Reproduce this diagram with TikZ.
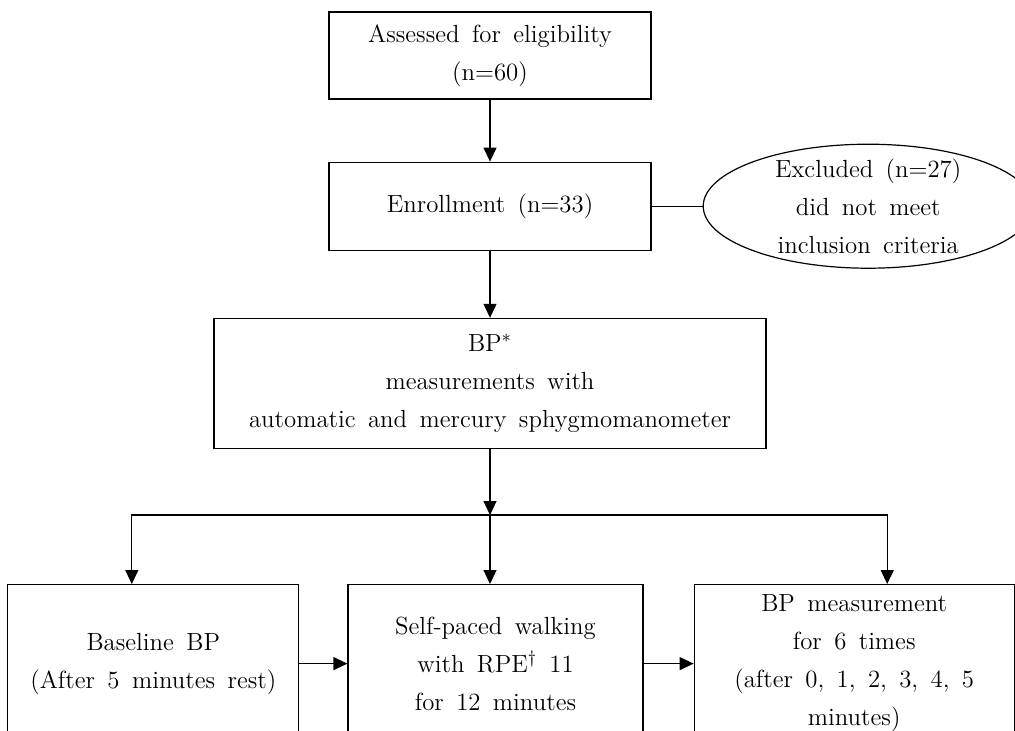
\documentclass[tikz,border=0pt]{standalone}
\usepackage{tikz}
\usetikzlibrary{shapes.geometric, arrows.meta, positioning, calc}

\begin{document}
\begin{tikzpicture}[x=0.5pt, y=-0.5pt, line width=0.6pt, node distance=31pt and 24pt]
        \tikzset{
            stagebox/.style={draw, align=center, inner sep=0pt, minimum width=161pt, minimum height=43.5pt,
                font={\fontsize{12.4}{19}\selectfont\spaceskip=0.5em plus 0.1em}},
            lowbox/.style={stagebox, minimum height=79pt},
            excludebox/.style={draw, ellipse, inner sep=0pt, minimum width=165pt, minimum height=62pt},
            flowarrow/.style={-{Triangle[length=7pt, width=6.5pt]}}
        }
        \useasboundingbox (0,0) rectangle (1015,730);
        \clip (0,0) rectangle (1015,730);

        % --- screening ---
        \node[stagebox] (assess) at (490,55.5) {Assessed for eligibility\\(n=60)};
        \node[stagebox, minimum height=44pt, below=of assess] (enroll) {Enrollment (n=33)};
        \node[excludebox, right=25.5pt of enroll] (excluded) {};
        \node[align=center, inner sep=0pt, font={\fontsize{12.4}{19}\selectfont\spaceskip=0.5em plus 0.1em}]
            (excltext) at (excluded.center) {Excluded (n=27)\\did not meet\\inclusion criteria};

        % --- measurement ---
        \node[stagebox, minimum width=276pt, minimum height=65pt, below=33.5pt of enroll] (bp)
            {BP$^{*}$\\measurements with\\automatic and mercury sphygmomanometer};

        % --- protocol row ---
        \node[lowbox, minimum width=147.5pt, below=67.5pt of bp, xshift=2.75pt] (walk)
            {Self-paced walking\\with RPE$^{\dagger}$ 11\\for 12 minutes};
        \node[lowbox, minimum width=145.5pt, left=of walk] (baseline) {Baseline BP\\(After 5 minutes rest)};
        \node[lowbox, minimum width=160pt, right=25pt of walk] (repeat)
            {BP measurement\\for 6 times\\(after 0, 1, 2, 3, 4, 5\\minutes)};

        % Arrows screening
        \draw[flowarrow] (assess) -- (enroll);
        \draw (enroll) -- (excluded);
        \draw[flowarrow] (enroll) -- (bp);

        % Split to the three steps
        \coordinate (split) at ($(bp.south)+(0,66)$);
        \coordinate (lhook) at ([xshift=-10.75pt]baseline.north);
        \coordinate (rhook) at ([xshift=16.5pt]repeat.north);
        \draw[flowarrow] (bp) -- (split);
        \draw[flowarrow] (split) -| (lhook);
        \draw[flowarrow] (split) -| (rhook);
        \draw[flowarrow] (split) -- (split |- walk.north);

        % Arrows protocol row
        \draw[flowarrow] (baseline) -- (walk);
        \draw[flowarrow] (walk) -- (repeat);

    \end{tikzpicture}
\end{document}
